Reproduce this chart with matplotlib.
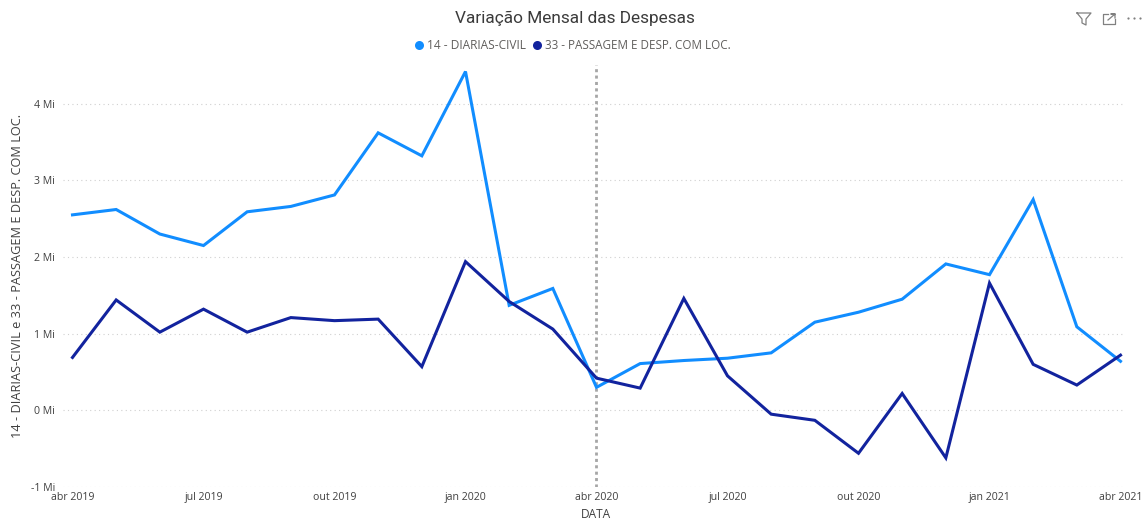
# -*- coding: utf-8 -*-
import matplotlib
matplotlib.use("Agg")
import matplotlib.pyplot as plt
from matplotlib.lines import Line2D

W, H = 1146, 522
plt.rcParams["font.family"] = ["Open Sans", "DejaVu Sans"]

# ---- data (milhoes), mes a mes de abr 2019 a abr 2021 ----
months = list(range(25))
diarias = [2.55, 2.62, 2.30, 2.15, 2.59, 2.66, 2.81, 3.62, 3.32, 4.42, 1.37, 1.59, 0.30,
           0.61, 0.65, 0.68, 0.75, 1.15, 1.28, 1.45, 1.91, 1.77, 2.75, 1.09, 0.64]
passagem = [0.69, 1.44, 1.02, 1.32, 1.02, 1.21, 1.17, 1.19, 0.57, 1.94, 1.42, 1.06, 0.42,
            0.29, 1.46, 0.45, -0.05, -0.13, -0.56, 0.22, -0.62, 1.66, 0.60, 0.33, 0.72]
x_ticks = [0, 3, 6, 9, 12, 15, 18, 21, 24]
x_labels = ["abr 2019", "jul 2019", "out 2019", "jan 2020", "abr 2020",
            "jul 2020", "out 2020", "jan 2021", "abr 2021"]
y_ticks = [-1, 0, 1, 2, 3, 4]
y_labels = ["-1 Mi", "0 Mi", "1 Mi", "2 Mi", "3 Mi", "4 Mi"]
name_a = "14 - DIARIAS-CIVIL"
name_b = "33 - PASSAGEM E DESP. COM LOC."
marker_month = 12

COL_A = "#118DFF"
COL_B = "#12239E"
GREY = "#605E5C"
DARK = "#404040"


def px(x, y):
    """pixel da imagem -> coordenada de figura"""
    return x / W, 1 - y / H


fig = plt.figure(figsize=(W / 100, H / 100), dpi=100)
ax = fig.add_axes([62.5 / W, 1 - 487 / H, (1124 - 62) / W, (487 - 65) / H])
ax.plot(months, diarias, color=COL_A, lw=2.2, solid_joinstyle="miter", zorder=3)
ax.plot(months, passagem, color=COL_B, lw=2.2, solid_joinstyle="miter", zorder=4)
ax.axvline(marker_month, color="#A6A6A6", lw=2.0, ls=(0, (1.1, 1.2)), zorder=2)

ax.set_xlim(-10 / 43.67, 24 + 4 / 43.67)
ax.set_ylim(-1, 4.505)
ax.set_yticks(y_ticks, y_labels)
ax.set_xticks(x_ticks, x_labels)
ax.tick_params(axis="both", length=0, labelsize=7.6, labelcolor=DARK)
ax.tick_params(axis="x", pad=3.5)
ax.tick_params(axis="y", pad=5.5)
ax.grid(axis="y", color="#D0D0D0", lw=0.8, ls=(0, (1, 3)))
ax.set_axisbelow(True)
for s in ax.spines.values():
    s.set_visible(False)

fig.text(*px(575, 18), "Variação Mensal das Despesas", fontsize=12.4, family=["Roboto", "DejaVu Sans"],
         color="#3B3B3B", ha="center", va="center")
fig.text(*px(596, 515), "DATA", fontsize=8.6, color=DARK, ha="center", va="center")
fig.text(*px(18, 276), name_a + " e " + name_b, fontsize=9.2, color=DARK,
         rotation=90, ha="center", va="center")

# legenda manual, como no Power BI
fig.add_artist(Line2D(*zip(px(419, 45)), marker="o", ms=6.5, color=COL_A, mew=0))
fig.text(*px(427, 45), name_a, fontsize=8.6, color=GREY, ha="left", va="center")
fig.add_artist(Line2D(*zip(px(537, 45)), marker="o", ms=6.5, color=COL_B, mew=0))
fig.text(*px(545, 45), name_b, fontsize=8.4, color=GREY, ha="left", va="center")

# icones do canto
ICON = "#808080"
funnel = [(1077, 13), (1091, 13), (1086, 19), (1086, 25), (1082, 23), (1082, 19), (1077, 13)]
xs, ys = zip(*[px(*p) for p in funnel])
fig.add_artist(Line2D(xs, ys, color=ICON, lw=0.9))
box = [(1108, 14), (1103, 14), (1103, 24), (1115, 24), (1115, 19)]
xs, ys = zip(*[px(*p) for p in box])
fig.add_artist(Line2D(xs, ys, color=ICON, lw=0.9))
arrow = [(1108, 20), (1115, 14), (1111, 14), (1115, 14), (1115, 18)]
xs, ys = zip(*[px(*p) for p in arrow])
fig.add_artist(Line2D(xs, ys, color=ICON, lw=0.9))
for dx in (1128, 1134, 1140):
    fig.add_artist(Line2D(*zip(px(dx, 18)), marker="o", ms=1.6, color=ICON, mew=0))

fig.savefig("out.png", dpi=100)
